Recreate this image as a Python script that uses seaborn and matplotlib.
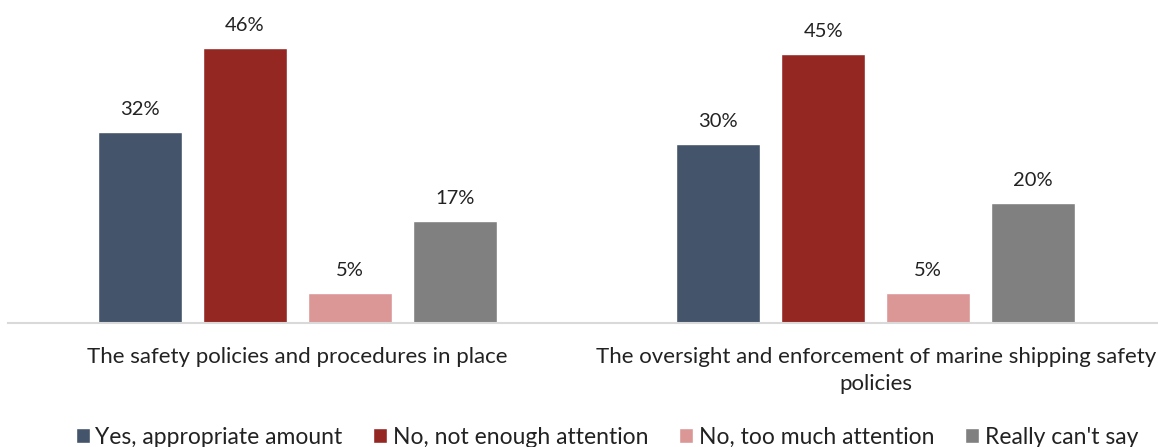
import pandas as pd
import matplotlib.pyplot as plt
import seaborn as sns

categories = ["The safety policies and procedures in place",
              "The oversight and enforcement of marine shipping safety\npolicies"]
responses = ["Yes, appropriate amount", "No, not enough attention",
             "No, too much attention", "Really can't say"]
values_policies = [32, 46, 5, 17]
values_oversight = [30, 45, 5, 20]
colors = ["#44546A", "#952723", "#DB9696", "#808080"]

rows = []
for cat, vals in zip(categories, [values_policies, values_oversight]):
    for resp, v in zip(responses, vals):
        rows.append({"Category": cat, "Response": resp, "Value": v})
df = pd.DataFrame(rows)

sns.set_style("white")
plt.rcParams['font.family'] = ['Lato', 'DejaVu Sans']

fig = plt.figure(figsize=(11.58, 4.47), dpi=100)
ax = fig.add_axes([8 / 1158, 1 - 323 / 447, 1157 / 1158, 323 / 447])

sns.barplot(data=df, x="Category", y="Value", hue="Response", palette=colors,
            width=0.726, gap=0.2, saturation=1, ax=ax, legend=True)

for cont in ax.containers:
    ax.bar_label(cont, labels=[f"{v:.0f}%" for v in cont.datavalues],
                 padding=10, fontsize=14.5, color="#222222")

ax.set_ylim(0, 54)
ax.set_xlim(-0.5, 1.5)
ax.set_xlabel("")
ax.set_ylabel("")
ax.set_yticks([])
for s in ["top", "right", "left"]:
    ax.spines[s].set_visible(False)
ax.spines["bottom"].set_color("#d9d9d9")
ax.spines["bottom"].set_linewidth(1.5)
ax.spines["bottom"].set_bounds(-0.5, 1.49)
ax.tick_params(axis="x", length=0, pad=17, labelsize=16, labelcolor="#222222")
for t in ax.get_xticklabels():
    t.set_verticalalignment("top")
    t.set_linespacing(1.45)

handles, labels = ax.get_legend_handles_labels()
ax.legend(handles, labels, loc="center", bbox_to_anchor=(599 / 1157, -114 / 323),
          ncol=4, frameon=False, fontsize=16.5, handlelength=0.6, handleheight=0.6,
          handletextpad=0.25, columnspacing=1.35, labelcolor="#222222")

fig.savefig("out.png", dpi=100)
